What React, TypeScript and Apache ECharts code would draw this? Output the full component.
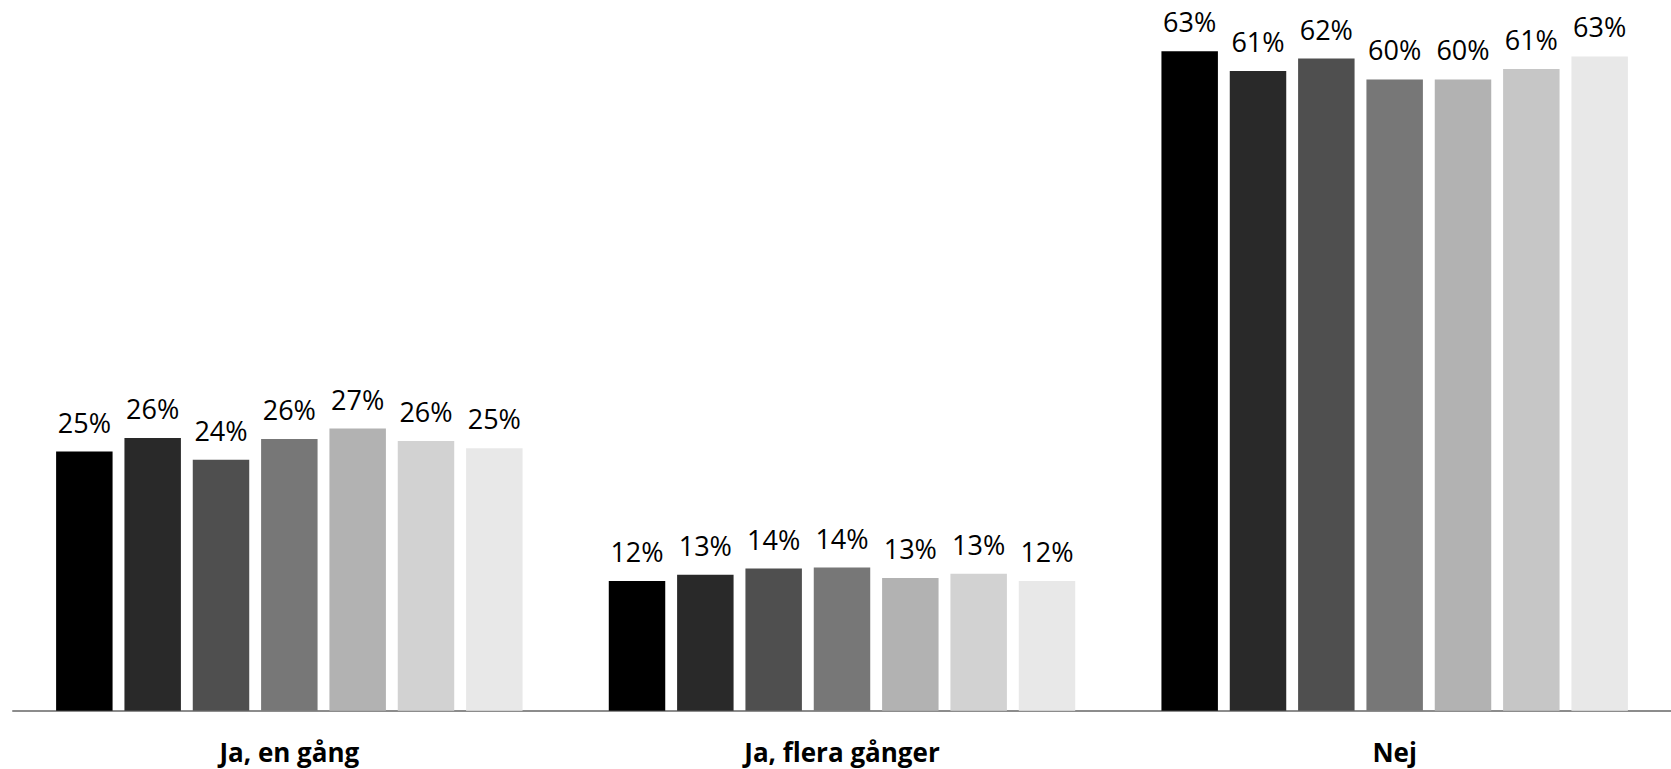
import React, { useEffect, useRef } from "react";
import * as echarts from "echarts";

const categories = ["Ja, en gång", "Ja, flera gånger", "Nej"];

const seriesNames = ["Serie 1", "Serie 2", "Serie 3", "Serie 4", "Serie 5", "Serie 6", "Serie 7"];

const serie1 = [24.8, 12.4, 63.1];
const serie2 = [26.1, 13.0, 61.2];
const serie3 = [24.0, 13.6, 62.4];
const serie4 = [26.0, 13.7, 60.4];
const serie5 = [27.0, 12.7, 60.4];
const serie6 = [25.8, 13.1, 61.4];
const serie7 = [25.1, 12.4, 62.6];

const seriesValues = [serie1, serie2, serie3, serie4, serie5, serie6, serie7];

const seriesColors = ["#000000", "#292929", "#4f4f4f", "#777777", "#b2b2b2", "#d2d2d2", "#e8e8e8"];
// the sixth bar of the last group is drawn in a slightly darker grey
const serie6LastColor = "#c6c6c6";

export default function App() {
  const ref = useRef<HTMLDivElement>(null);

  useEffect(() => {
    if (!ref.current) return;
    const chart = echarts.init(ref.current, null, { renderer: "svg" });

    const series = seriesValues.map((vals, si) => ({
      name: seriesNames[si],
      type: "bar",
      data: vals.map((v, ci) =>
        si === 5 && ci === 2 ? { value: v, itemStyle: { color: serie6LastColor } } : v
      ),
      itemStyle: { color: seriesColors[si] },
      barGap: "21%",
      barCategoryGap: "15.6%",
      label: {
        show: true,
        position: "top",
        distance: 16,
        fontFamily: "Open Sans",
        fontSize: 27,
        color: "#000000",
        formatter: (p: any) => Math.round(p.value) + "%",
      },
    }));

    chart.setOption({
      animation: false,
      backgroundColor: "#ffffff",
      textStyle: { fontFamily: "Open Sans" },
      grid: { left: 13, right: 0, top: 0, bottom: 58.3, containLabel: false },
      xAxis: {
        type: "category",
        data: categories,
        axisLine: { show: true, lineStyle: { color: "#8c8c8c", width: 2 } },
        axisTick: { show: false },
        axisLabel: {
          fontFamily: "Open Sans",
          fontWeight: "bold",
          fontSize: 26,
          color: "#000000",
          margin: 28,
        },
      },
      yAxis: {
        type: "value",
        min: 0,
        max: 68,
        show: false,
        splitLine: { show: false },
      },
      series,
    });

    return () => chart.dispose();
  }, []);

  return (
    <div
      ref={ref}
      style={{ position: "fixed", left: 0, top: 0, width: "1671px", height: "769px" }}
    />
  );
}
